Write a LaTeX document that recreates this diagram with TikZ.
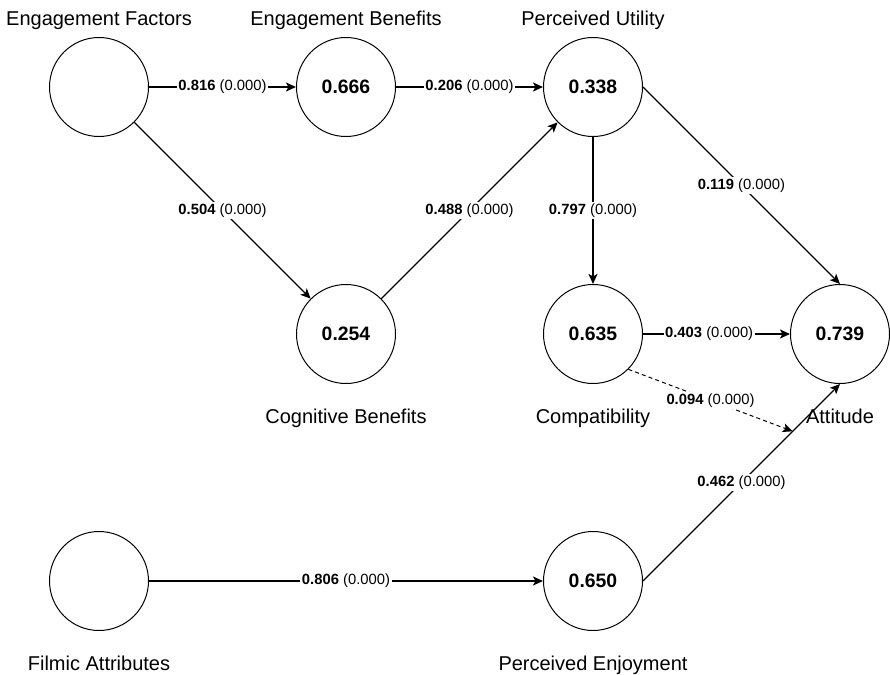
\documentclass[tikz,border=0pt]{standalone}
\usepackage{fontspec}
\setmainfont{Liberation Sans}
\usetikzlibrary{positioning, arrows.meta}
\tikzset{
    >={Stealth[length=5pt, width=4.5pt, inset=1.2pt]}, % filled arrow heads
    latent/.style={circle, draw, line width=0.5pt, minimum size=49.5pt, inner sep=0pt, font=\fontsize{9.7}{11}\selectfont\bfseries}, % the constructs
    lbl/.style={font=\fontsize{10}{12}\selectfont, inner sep=0pt, anchor=base}, % construct names
    coef/.style={fill=white, inner sep=0.8pt, font=\fontsize{7.4}{9}\selectfont}, % path coefficients
    link/.style={->, line width=0.7pt},
    weak/.style={->, line width=0.5pt, dash pattern=on 2pt off 1.6pt}
}

\begin{document}
\begin{tikzpicture}[node distance=123.5pt]
    \useasboundingbox (-49.5pt,43.5pt) rectangle (395.5pt,-294pt);

    \node[latent] (ef) {};
    \node[latent] (eb) [right of=ef] {0.666};
    \node[latent] (pu) [right of=eb] {0.338};
    \node[latent] (cb) [below of=eb] {0.254};
    \node[latent] (co) [below of=pu] {0.635};
    \node[latent] (att) [right of=co] {0.739};
    \node[latent] (pe) [below of=co] {0.650};
    \node[latent] (fa) [below of=ef, node distance=247pt] {};

    % names above and below the circles
    \node[above=5.7pt of ef, lbl] (ef-n) {Engagement Factors};
    \node[above=5.7pt of eb, lbl] (eb-n) {Engagement Benefits};
    \node[above=5.7pt of pu, lbl] (pu-n) {Perceived Utility};
    \node[below=19.5pt of cb, lbl] (cb-n) {Cognitive Benefits};
    \node[below=19.5pt of co, lbl] (co-n) {Compatibility};
    \node[below=19.5pt of att, lbl] (att-n) {Attitude};
    \node[below=19.5pt of fa, lbl] (fa-n) {Filmic Attributes};
    \node[below=19.5pt of pe, lbl] (pe-n) {Perceived Enjoyment};

    \draw[link] (ef) -- node[coef] {\textbf{0.816} (0.000)} (eb);
    \draw[link] (eb) -- node[coef] {\textbf{0.206} (0.000)} (pu);
    \draw[link] (ef) -- node[coef] {\textbf{0.504} (0.000)} (cb);
    \draw[link] (cb) -- node[coef] {\textbf{0.488} (0.000)} (pu);
    \draw[link] (pu) -- node[coef] {\textbf{0.797} (0.000)} (co);
    \draw[link] (pu.east) -- node[coef] {\textbf{0.119} (0.000)} (att.north);
    \draw[link] (co) -- node[coef, pos=0.45] {\textbf{0.403} (0.000)} (att);
    \draw[link] (pe.east) -- coordinate[pos=0.76] (mo) node[coef, midway] {\textbf{0.462} (0.000)} (att.south);
    \draw[weak] (co.south east) -- node[coef] {\textbf{0.094} (0.000)} (mo);
    \draw[link] (fa) -- node[coef] {\textbf{0.806} (0.000)} (pe);
\end{tikzpicture}
\end{document}
